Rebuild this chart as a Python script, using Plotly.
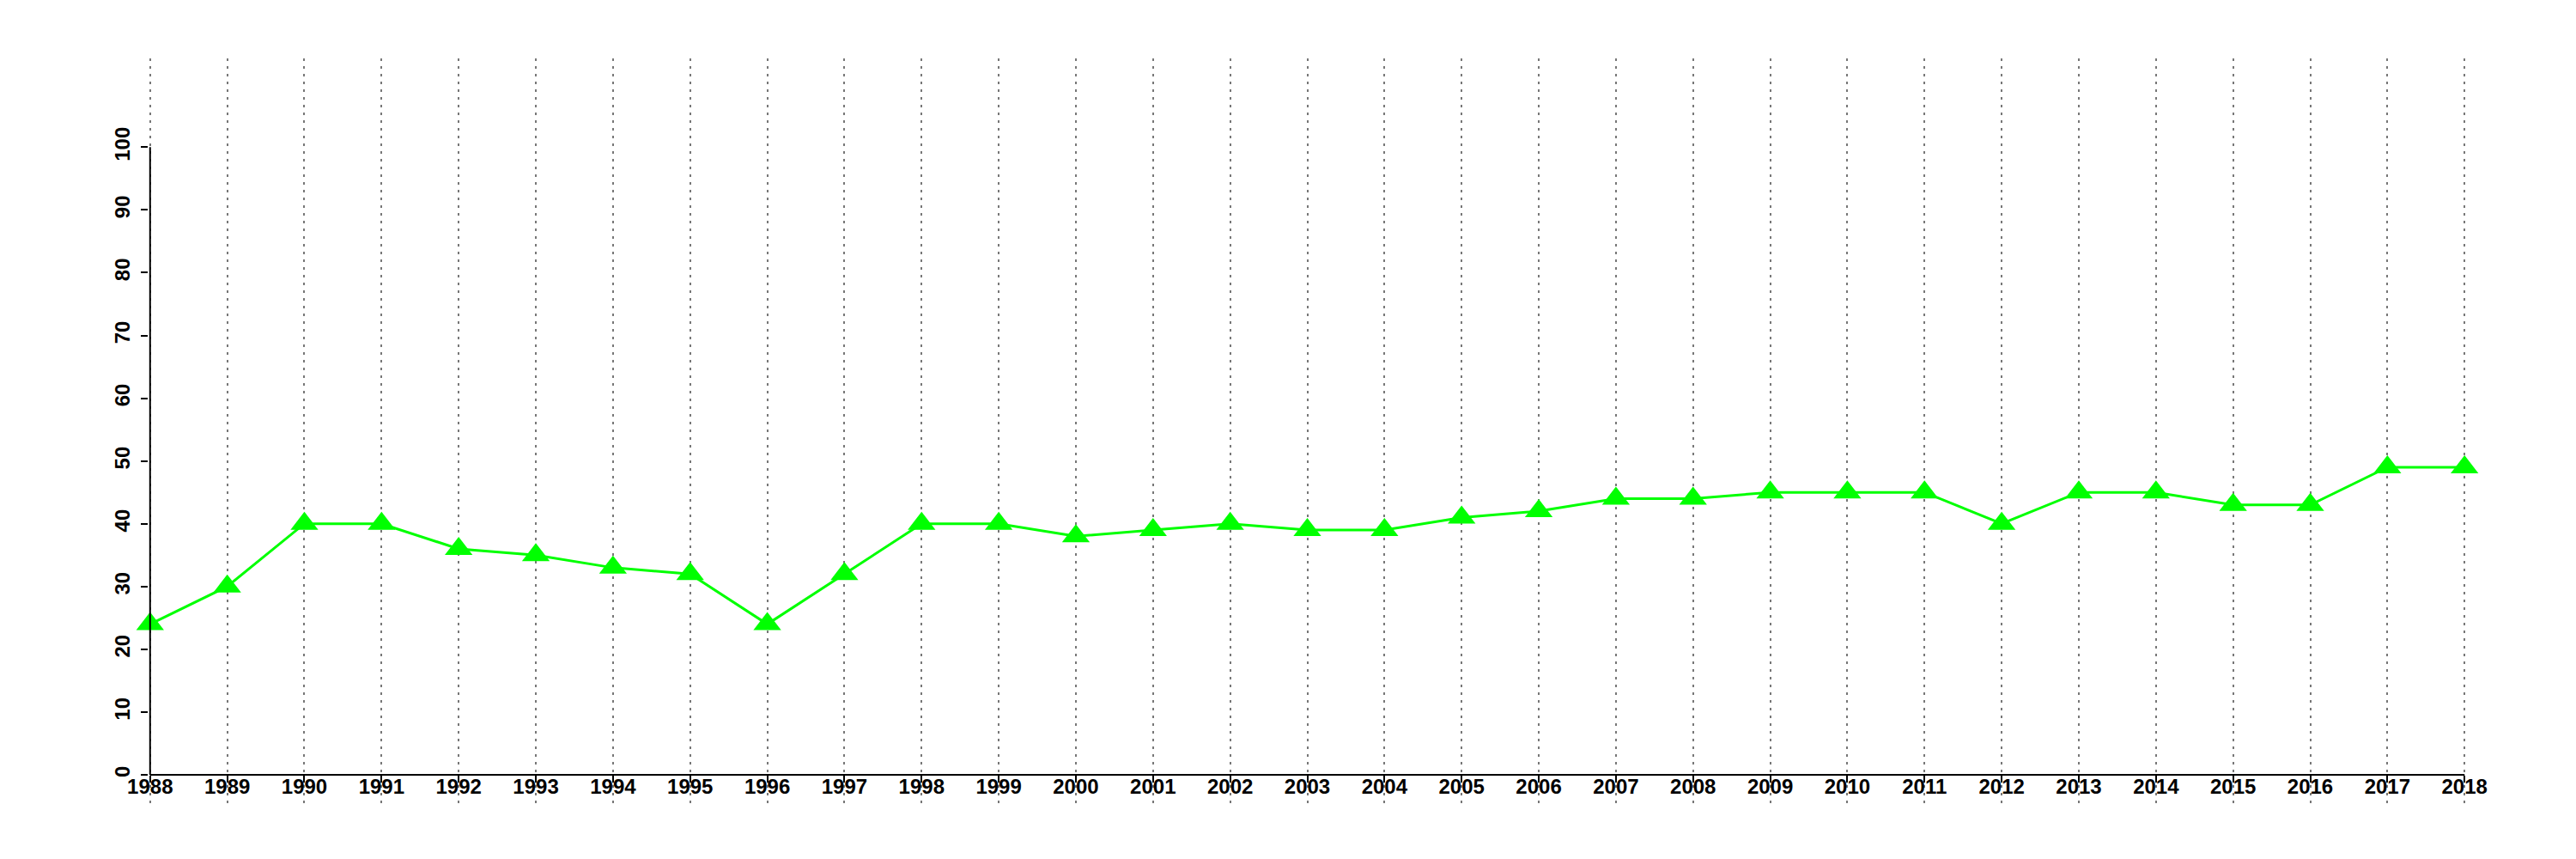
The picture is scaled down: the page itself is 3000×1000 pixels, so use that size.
import plotly.graph_objects as go

years = list(range(1988, 2019))
values = [24, 30, 40, 40, 36, 35, 33, 32, 24, 32, 40, 40, 38, 39, 40, 39, 39,
          41, 42, 44, 44, 45, 45, 45, 40, 45, 45, 43, 43, 49, 49]
y_ticks = list(range(0, 101, 10))
x_ticks = years

line_color = "#00ff00"
grid_color = "#777777"
font = dict(family="Liberation Sans, Arial, sans-serif", size=24, color="black", weight="bold")

fig = go.Figure()
fig.add_trace(go.Scatter(
    x=years, y=values, mode="lines+markers",
    line=dict(color=line_color, width=3),
    marker=dict(symbol="triangle-up", size=28, color=line_color, line=dict(width=0)),
    cliponaxis=False, showlegend=False,
))

# plot area: top 60px, bottom 927px; y=0 at 894px, y=100 at 163px
y_min, y_max = -4.52, 114.14
x_pos = (0 - y_min) / (y_max - y_min)
pad_years = 0.02  # keeps the end gridlines visible

fig.update_layout(
    width=3000, height=1000,
    margin=dict(l=164.7, r=136.2, t=60, b=73, pad=0),
    paper_bgcolor="white", plot_bgcolor="white",
    font=font,
    xaxis=dict(
        range=[years[0] - pad_years, years[-1] + pad_years],
        tickvals=x_ticks, ticktext=[str(v) for v in x_ticks],
        anchor="free", position=x_pos,
        showline=False,
        ticks="outside", ticklen=8, tickwidth=2, tickcolor="black",
        ticklabelstandoff=-16,
        showgrid=True, gridcolor=grid_color, gridwidth=2, griddash="3px,6px",
        zeroline=False, tickfont=font, tickangle=0,
    ),
    yaxis=dict(
        range=[y_min, y_max], tickvals=y_ticks, ticktext=[str(v) for v in y_ticks],
        showline=False, ticks="outside", ticklen=8, tickwidth=2, tickcolor="black",
        ticklabelstandoff=3,
        showgrid=False, zeroline=False, tickangle=-90, tickfont=font,
    ),
)

# axis lines spanning only the tick ranges
fig.add_shape(type="line", xref="x", yref="y", x0=years[0], x1=years[0],
              y0=min(y_ticks), y1=max(y_ticks),
              line=dict(color="black", width=2), layer="above")
fig.add_shape(type="line", xref="x", yref="y", x0=years[0], x1=years[-1],
              y0=min(y_ticks), y1=min(y_ticks),
              line=dict(color="black", width=2), layer="above")

fig.write_html("out.html")
